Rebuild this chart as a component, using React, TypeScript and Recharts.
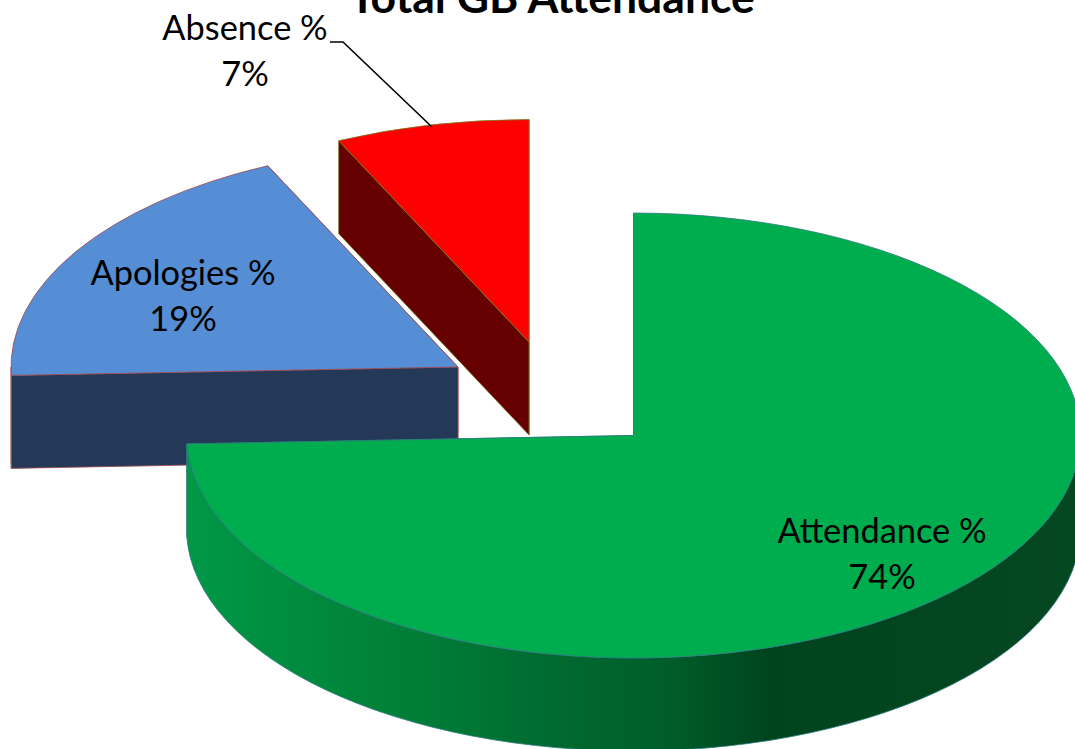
import { PieChart, Pie, Cell } from 'recharts';

const CATEGORIES = ['Absence %', 'Apologies %', 'Attendance %'];
const VALUES = [7, 18.6, 74.4];
const TITLE = 'Total GB Attendance';

const TOP_COLORS = ['#ff0000', '#558ed5', '#00ad4e'];
const SIDE_COLORS = ['#660000', '#243858', 'url(#wallGreen)'];
const EDGE_COLORS = ['#7a7a20', '#a04a50', '#2e7a80'];

// how far each slice is pulled out of the pie
const EXPLODE: Record<string, [number, number]> = {
  'Absence %': [-104.5, -93.5],
  'Apologies %': [-175.5, -68.5],
  'Attendance %': [0, 0],
};
const LABEL_AT: Record<string, [number, number]> = {
  'Absence %': [245, 40],
  'Apologies %': [183, 285],
  'Attendance %': [882, 543],
};

const SQUASH = 0.4977;
const DEPTH = 93;
const FONT = 'Lato, sans-serif';

const chartData = CATEGORIES.map((name, i) => ({ name, value: VALUES[i] }));

function point(cx: number, cy: number, r: number, deg: number) {
  const a = (deg * Math.PI) / 180;
  return [cx + r * Math.cos(a), cy - r * SQUASH * Math.sin(a)];
}

function Slice3D(props: any) {
  const { cx, cy, outerRadius: r, startAngle, endAngle, fill, payload } = props;
  const i = CATEGORIES.indexOf(payload.name);
  const [dx, dy] = EXPLODE[payload.name];
  const x0 = cx + dx;
  const y0 = cy + dy;
  const rb = r * SQUASH;
  const [sx, sy] = point(x0, y0, r, startAngle);
  const [ex, ey] = point(x0, y0, r, endAngle);
  const large = endAngle - startAngle > 180 ? 1 : 0;
  const top = `M${x0},${y0} L${sx},${sy} A${r},${rb} 0 ${large} 0 ${ex},${ey} Z`;

  const cut = (x: number, y: number) =>
    `M${x0},${y0} L${x},${y} L${x},${y + DEPTH} L${x0},${y0 + DEPTH} Z`;

  const from = Math.max(startAngle, 180);
  const to = Math.min(endAngle, 360);
  let wall = '';
  if (from < to) {
    const [ax, ay] = point(x0, y0, r, from);
    const [bx, by] = point(x0, y0, r, to);
    wall = `M${ax},${ay} A${r},${rb} 0 0 0 ${bx},${by} L${bx},${by + DEPTH} A${r},${rb} 0 0 1 ${ax},${ay + DEPTH} Z`;
  }

  return (
    <g>
      <defs>
        <linearGradient id="wallGreen" gradientUnits="userSpaceOnUse" x1={187} y1={0} x2={1075} y2={0}>
          <stop offset="0" stopColor="#009846" />
          <stop offset="0.2" stopColor="#00843a" />
          <stop offset="0.4" stopColor="#006c30" />
          <stop offset="0.55" stopColor="#005c29" />
          <stop offset="0.655" stopColor="#00441e" />
          <stop offset="1" stopColor="#044720" />
        </linearGradient>
      </defs>
      <path d={cut(sx, sy)} fill={SIDE_COLORS[i]} stroke={EDGE_COLORS[i]} strokeWidth={0.8} />
      <path d={cut(ex, ey)} fill={SIDE_COLORS[i]} stroke={EDGE_COLORS[i]} strokeWidth={0.8} />
      {wall && <path d={wall} fill={SIDE_COLORS[i]} stroke={EDGE_COLORS[i]} strokeWidth={0.8} />}
      <path d={top} fill={fill} stroke={EDGE_COLORS[i]} strokeWidth={0.8} />
    </g>
  );
}

function SliceLabel(props: any) {
  const { name, percent } = props;
  const [x, y] = LABEL_AT[name];
  return (
    <g>
      {name === 'Absence %' && (
        <polyline points="330,42 343,42 432,127" fill="none" stroke="#000" strokeWidth={1.6} />
      )}
      <text x={x} y={y} textAnchor="middle" fontFamily={FONT} fontSize={34.4} fill="#000">
        {name}
      </text>
      <text x={x} y={y + 46} textAnchor="middle" fontFamily={FONT} fontSize={34.4} fill="#000">
        {`${Math.round(percent * 100)}%`}
      </text>
    </g>
  );
}

export default function App() {
  return (
    <div style={{ position: 'absolute', left: 0, top: 0, width: 1075, height: 749, overflow: 'hidden', background: '#fff' }}>
      <PieChart width={1075} height={749} margin={{ top: 0, right: 0, bottom: 0, left: 0 }}>
        <Pie
          data={chartData}
          dataKey="value"
          nameKey="name"
          cx={633.5}
          cy={435.5}
          innerRadius={0}
          outerRadius={447}
          startAngle={90}
          endAngle={450}
          stroke="none"
          shape={Slice3D}
          label={SliceLabel}
          labelLine={false}
          isAnimationActive={false}
        >
          {chartData.map((_, i) => (
            <Cell key={i} fill={TOP_COLORS[i]} />
          ))}
        </Pie>
        <text x={552} y={13} textAnchor="middle" fontFamily={FONT} fontSize={44.5} fontWeight={700} fill="#000">
          {TITLE}
        </text>
      </PieChart>
    </div>
  );
}
